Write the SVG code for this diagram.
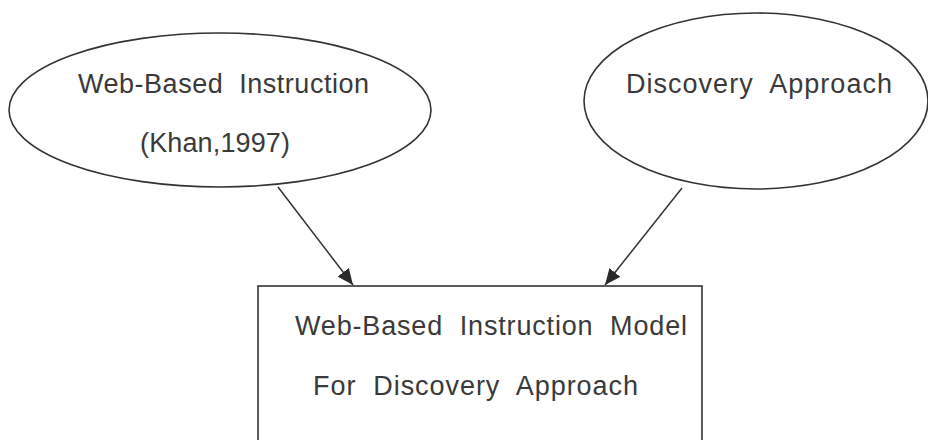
<svg xmlns="http://www.w3.org/2000/svg" width="928" height="440" viewBox="0 0 928 440">
<style>
.shape{fill:none;stroke:#333;stroke-width:1.6}
.lbl{font-family:"Liberation Sans",Arial,sans-serif;font-size:27px;fill:#3a3a3a}
.conn{stroke:#333;stroke-width:1.5;fill:none}
</style>
<defs>
<marker id="arrh" viewBox="0 0 16 14" refX="16" refY="7" markerWidth="16" markerHeight="14" markerUnits="userSpaceOnUse" orient="auto">
<path d="M0,0 L16,7 L0,14 z" fill="#2a2a2a"/>
</marker>
</defs>
<rect width="928" height="440" fill="#fff"/>
<g id="node-wbi">
<ellipse class="shape" cx="220" cy="110" rx="211" ry="77"/>
<text class="lbl" x="78" y="93" textLength="291" lengthAdjust="spacing">Web-Based&#160; Instruction</text>
<text class="lbl" x="140" y="152" textLength="150" lengthAdjust="spacing">(Khan,1997)</text>
</g>
<g id="node-discovery">
<ellipse class="shape" cx="756" cy="101" rx="172" ry="88"/>
<text class="lbl" x="626" y="93" textLength="266" lengthAdjust="spacing">Discovery&#160; Approach</text>
</g>
<g id="node-model">
<rect class="shape" x="258" y="286" width="444" height="180"/>
<text class="lbl" x="295" y="335" textLength="392" lengthAdjust="spacing">Web-Based&#160; Instruction&#160; Model</text>
<text class="lbl" x="313" y="395" textLength="325" lengthAdjust="spacing">For&#160; Discovery&#160; Approach</text>
</g>
<g id="connectors">
<line class="conn" x1="278" y1="187" x2="353" y2="285" marker-end="url(#arrh)"/>
<line class="conn" x1="682" y1="188" x2="605" y2="285" marker-end="url(#arrh)"/>
</g>
</svg>
